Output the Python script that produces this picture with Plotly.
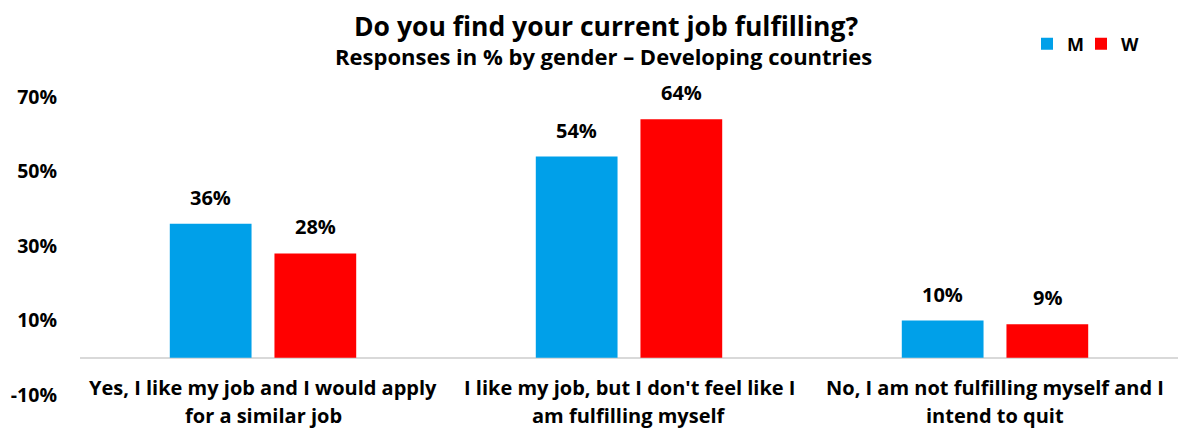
import plotly.graph_objects as go

categories = [
    "Yes, I like my job and I would apply<br>for a similar job",
    "I like my job, but I don't feel like I<br>am fulfilling myself",
    "No, I am not fulfilling myself and I<br>intend to quit",
]
men = [36, 54, 10]
women = [28, 64, 9]
tick_vals = [-10, 10, 30, 50, 70]
tick_text = ["-10%", "10%", "30%", "50%", "70%"]

FONT = "Open Sans"
BLUE = "#00A0E9"
RED = "#FF0000"

fig = go.Figure()
fig.add_trace(go.Bar(name="<b>M</b>", x=categories, y=men, marker_color=BLUE,
                     marker_line_width=0, legend="legend", showlegend=True))
fig.add_trace(go.Bar(name="<b>W</b>", x=categories, y=women, marker_color=RED,
                     marker_line_width=0, legend="legend2", showlegend=True))

annotations = []
# value labels above each bar
for series, off in [(men, -0.5), (women, 0.5)]:
    for j, v in enumerate(series):
        annotations.append(dict(
            x=j, y=v, xref="x", yref="y", text=f"<b>{v}%</b>",
            showarrow=False, yanchor="bottom", yshift=11,
            xshift=off * 105,
            font=dict(family=FONT, size=20, color="black"),
        ))
# category labels below the zero line, one annotation per line
for j, c in enumerate(categories):
    for k, line in enumerate(c.split("<br>")):
        annotations.append(dict(
            x=j, y=0, xref="x", yref="y", text=f"<b>{line}</b>",
            showarrow=False, yanchor="middle", yshift=-(30 + 28 * k),
            font=dict(family=FONT, size=20, color="black"),
        ))
# title and subtitle
annotations.append(dict(
    x=(606 - 80) / 1098, y=(395 - 26) / 298, xref="paper", yref="paper",
    text="<b>Do you find your current job fulfilling?</b>",
    showarrow=False, yanchor="middle", xanchor="center",
    font=dict(family=FONT, size=26.5, color="black"),
))
annotations.append(dict(
    x=(603.5 - 80) / 1098, y=(395 - 56) / 298, xref="paper", yref="paper",
    text="<b>Responses in % by gender – Developing countries</b>",
    showarrow=False, yanchor="middle", xanchor="center",
    font=dict(family=FONT, size=22, color="black"),
))

legend_common = dict(
    orientation="h", xanchor="left",
    xref="container", yref="container",
    y=1 - 44 / 428, yanchor="middle",
    font=dict(family=FONT, size=18, color="black"),
    bgcolor="rgba(0,0,0,0)", itemwidth=30,
)

fig.update_layout(
    width=1178, height=428,
    margin=dict(l=80, r=0, t=97, b=33),
    paper_bgcolor="white", plot_bgcolor="white",
    showlegend=True,
    barmode="group", bargap=0.428, bargroupgap=0.219,
    legend=dict(x=1027 / 1178, **legend_common),
    legend2=dict(x=1081 / 1178, **legend_common),
    xaxis=dict(showticklabels=False, showline=False, showgrid=False,
               ticks="", range=[-0.5, 2.5]),
    yaxis=dict(range=[-10, 70], tickvals=tick_vals, ticktext=tick_text,
               showgrid=False, zeroline=True, zerolinecolor="#D9D9D9",
               zerolinewidth=2, showline=False, ticks="",
               tickfont=dict(family=FONT, size=19.5, color="black",
                             weight="bold"),
               ticklabelstandoff=22),
    annotations=annotations,
    font=dict(family=FONT),
)

fig.write_html("out.html")
